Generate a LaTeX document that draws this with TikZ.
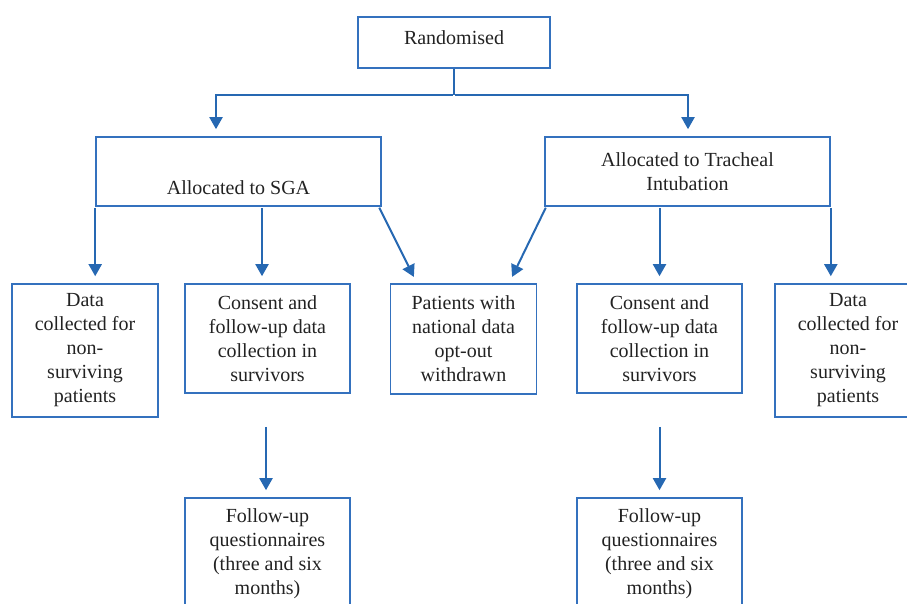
\documentclass[tikz,border=0pt]{standalone}
\usepackage{fontspec}
\setmainfont{Liberation Serif}
\usepackage{xcolor}
\usetikzlibrary{positioning,arrows.meta}
\definecolor{boxblue}{RGB}{52,113,190}
\definecolor{arrblue}{RGB}{38,104,178}
\definecolor{txtgray}{RGB}{34,34,34}
\tikzset{
box/.style={draw=boxblue, line width=1.6pt, align=center, text=txtgray, inner sep=0pt, font=\rmfamily\fontsize{20}{24}\selectfont},
line/.style={draw=arrblue, line width=1.3pt},
arr/.style={draw=arrblue, line width=2pt, -{Triangle[width=13pt,length=12pt]}, shorten >=7pt, shorten <=1pt}
}

\begin{document}
\begin{tikzpicture}[x=1pt,y=-1pt]
  \useasboundingbox (0,0) rectangle (907,604);
  \node[box, minimum width=192pt, minimum height=51pt, text height=14pt, text depth=9pt] (rand) at (454,42.5) {Randomised};
  \node[box, minimum width=285pt, minimum height=69pt, text height=47pt, text depth=2pt] (sga) at (238.5,171.5) {Allocated to SGA};
  \node[box, minimum width=285pt, minimum height=69pt] (ti) at (687.5,171.5) {Allocated to Tracheal\\Intubation};
  % third row
  \node[box, minimum width=146pt, minimum height=133pt] (data1) at (85,350.5) {Data\\collected for\\non-\\surviving\\patients};
  \node[box, minimum width=165pt, minimum height=109pt] (cons1) at (267.5,338.5) {Consent and\\follow-up data\\collection in\\survivors};
  \node[box, minimum width=146pt, minimum height=110pt] (optout) at (463.5,339) {Patients with\\national data\\opt-out\\withdrawn};
  \node[box, minimum width=165pt, minimum height=109pt] (cons2) at (659.5,338.5) {Consent and\\follow-up data\\collection in\\survivors};
  \node[box, minimum width=146pt, minimum height=133pt] (data2) at (848,350.5) {Data\\collected for\\non-\\surviving\\patients};
  % questionnaires
  \node[box, minimum width=165pt, minimum height=112pt] (fu1) at (267.5,554) {Follow-up\\questionnaires\\(three and six\\months)};
  \node[box, minimum width=165pt, minimum height=112pt] (fu2) at (659.5,554) {Follow-up\\questionnaires\\(three and six\\months)};

  \coordinate (split) at (454,95);
  \coordinate (s1) at (262,207);
  \draw[line] (rand.south) -- (split);
  \draw[arr] (split) -| ([xshift=-22.5pt]sga.north);
  \draw[arr] (split) -| ([xshift=0.5pt]ti.north);

  \draw[arr] (sga.south west) -- (sga.south west |- data1.north);
  \draw[arr] (s1) -- (s1 |- cons1.north);
  \draw[arr] ([xshift=-3pt]sga.south east) -- ([xshift=-46.5pt]optout.north);
  \draw[arr] ([xshift=2pt]ti.south west) -- ([xshift=45.5pt]optout.north);
  \draw[arr] (ti.south -| cons2.north) -- (cons2.north);
  \draw[arr] (ti.south east) -- (ti.south east |- data2.north);

  \draw[arr] ([xshift=-1.5pt,yshift=-32pt]cons1.south) -- ([xshift=-1.5pt]fu1.north);
  \draw[arr] ([yshift=-32pt]cons2.south) -- (fu2.north);
\end{tikzpicture}
\end{document}
